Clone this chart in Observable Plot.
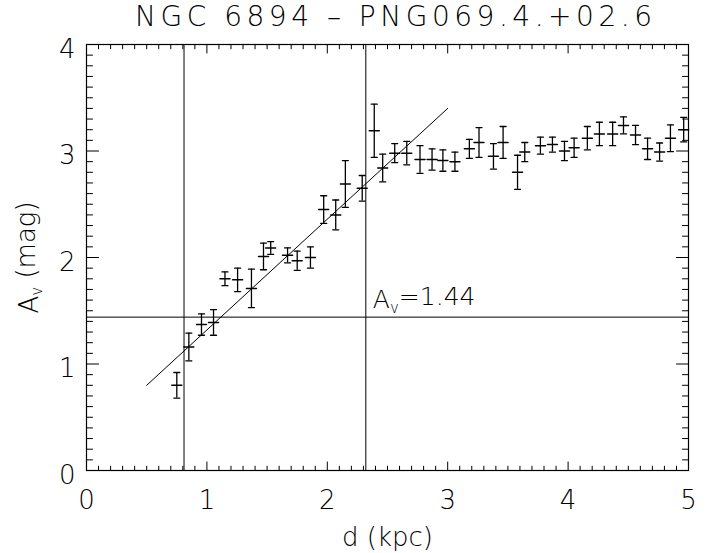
<!DOCTYPE html>
<html><head><meta charset="utf-8">
<script src="https://cdn.jsdelivr.net/npm/d3@7"></script>
<script src="https://cdn.jsdelivr.net/npm/@observablehq/plot@0.6"></script>
<style>
body{margin:0;background:#fff;}
svg text{font-weight:200;}
</style></head><body><div id="chart"></div>
<script>
const title = "NGC 6894 \u2013 PNG069.4.+02.6";
const xLabel = "d (kpc)";
const distance = [0.75,0.85,0.955,1.055,1.15,1.255,1.37,1.47,1.53,1.67,1.75,1.86,1.97,2.07,2.15,2.29,2.39,2.46,2.56,2.66,2.77,2.87,2.96,3.06,3.18,3.26,3.38,3.46,3.58,3.64,3.77,3.87,3.97,4.05,4.16,4.26,4.37,4.46,4.56,4.66,4.76,4.85,4.96];
const extinction = [0.80,1.16,1.37,1.39,1.80,1.79,1.71,2.01,2.09,2.02,1.97,2.00,2.45,2.40,2.69,2.65,3.19,2.84,2.98,2.98,2.92,2.92,2.91,2.90,3.02,3.08,2.95,3.08,2.80,2.99,3.05,3.06,3.00,3.03,3.12,3.16,3.16,3.24,3.15,3.02,2.99,3.12,3.20];
const errorAv = [0.12,0.13,0.10,0.12,0.065,0.11,0.18,0.125,0.06,0.07,0.09,0.10,0.13,0.14,0.22,0.12,0.25,0.13,0.09,0.11,0.13,0.10,0.10,0.09,0.09,0.14,0.12,0.15,0.16,0.09,0.08,0.07,0.09,0.09,0.11,0.11,0.11,0.08,0.09,0.10,0.085,0.125,0.115];
const fitD = [0.5, 3.0];
const fitAv = [0.80, 3.40];
const limitD = [0.81, 2.32];
const limitAv = 1.44;
const xTicks = [0,1,2,3,4,5];
const yTicks = [0,1,2,3,4];

const points = distance.map((d,i)=>({d, a: extinction[i], e: errorAv[i]}));
const fit = fitD.map((d,i)=>({d, a: fitAv[i]}));
const xMinor = d3.range(0,51).map(i=>i/10).filter(v=>Math.abs(v-Math.round(v))>1e-9);
const yMinor = d3.range(0,41).map(i=>i/10).filter(v=>Math.abs(v-Math.round(v))>1e-9);

const seg = {draw(ctx, l){ ctx.moveTo(0,0); ctx.lineTo(0,-l); }};
const tk = (vals, ax, anchor, rot, len) => Plot.vector(vals, {
  [ax]: v=>v, frameAnchor: anchor, rotate: rot, length: len, anchor: "start",
  shape: seg, stroke: "black", strokeWidth: 1
});
const font = "'DejaVu Sans', sans-serif";

const plot = Plot.plot({
  width: 717, height: 553,
  marginLeft: 86, marginRight: 29, marginTop: 44, marginBottom: 83,
  style: {fontFamily: font, background: "white", color: "black"},
  x: {domain: [0,5]},
  y: {domain: [0,4]},
  marks: [
    Plot.frame({stroke: "black", strokeWidth: 1.2}),
    tk(xTicks, "x", "bottom", 0, 8.5), tk(xMinor, "x", "bottom", 0, 4.3),
    tk(xTicks, "x", "top", 180, 8.5), tk(xMinor, "x", "top", 180, 4.3),
    tk(yTicks, "y", "left", 90, 12), tk(yMinor, "y", "left", 90, 6),
    tk(yTicks, "y", "right", -90, 12), tk(yMinor, "y", "right", -90, 6),
    Plot.axisX(xTicks, {anchor: "bottom", tickSize: 0, tickPadding: 20, fontSize: 26, label: null, tickFormat: d=>String(d)}),
    Plot.axisY(yTicks, {anchor: "left", tickSize: 0, tickPadding: 11, fontSize: 26, dy: 5, label: null, tickFormat: d=>String(d)}),
    Plot.ruleX(limitD, {x: d=>d, stroke: "black", strokeWidth: 1}),
    Plot.ruleY([limitAv], {y: d=>d, stroke: "black", strokeWidth: 1}),
    Plot.line(fit, {x: "d", y: "a", stroke: "black", strokeWidth: 1}),
    Plot.ruleX(points, {x: "d", y1: p=>p.a-p.e, y2: p=>p.a+p.e, stroke: "black", strokeWidth: 1.3}),
    Plot.vector(points, {x: "d", y: p=>p.a+p.e, rotate: 90, length: 6, anchor: "middle", shape: seg, stroke: "black", strokeWidth: 1.3}),
    Plot.vector(points, {x: "d", y: p=>p.a-p.e, rotate: 90, length: 6, anchor: "middle", shape: seg, stroke: "black", strokeWidth: 1.3}),
    Plot.vector(points, {x: "d", y: "a", rotate: 90, length: 10, anchor: "middle", shape: seg, stroke: "black", strokeWidth: 1.5}),
    Plot.text(["A_v=1.44"], {x: limitD[1], y: limitAv, textAnchor: "start", lineAnchor: "bottom", dx: 7, dy: -9, fontSize: 25}),
    Plot.text([title], {frameAnchor: "top", dx: 6, dy: -27, fontSize: 28, lineAnchor: "middle"}),
    Plot.text([xLabel], {frameAnchor: "bottom", dy: 67, fontSize: 26, lineAnchor: "middle"}),
    Plot.text(["A_v (mag)"], {frameAnchor: "left", dx: -57, dy: 0, rotate: -90, fontSize: 26, textAnchor: "middle", lineAnchor: "middle"})
  ]
});
document.getElementById("chart").appendChild(plot);

const svg = d3.select(plot);
svg.selectAll("text").each(function(){
  const t = d3.select(this);
  const s = this.textContent;
  if (s === title) {
    t.attr("textLength", 517).attr("lengthAdjust", "spacing");
  } else if (s === "A_v=1.44" || s === "A_v (mag)") {
    const rest = s.slice(3);
    t.text(null);
    t.append("tspan").text("A");
    t.append("tspan").attr("font-size", "15").attr("dy", "0.3em").text("v");
    t.append("tspan").attr("dy", "-0.3em").text(rest);
  }
});
</script></body></html>
